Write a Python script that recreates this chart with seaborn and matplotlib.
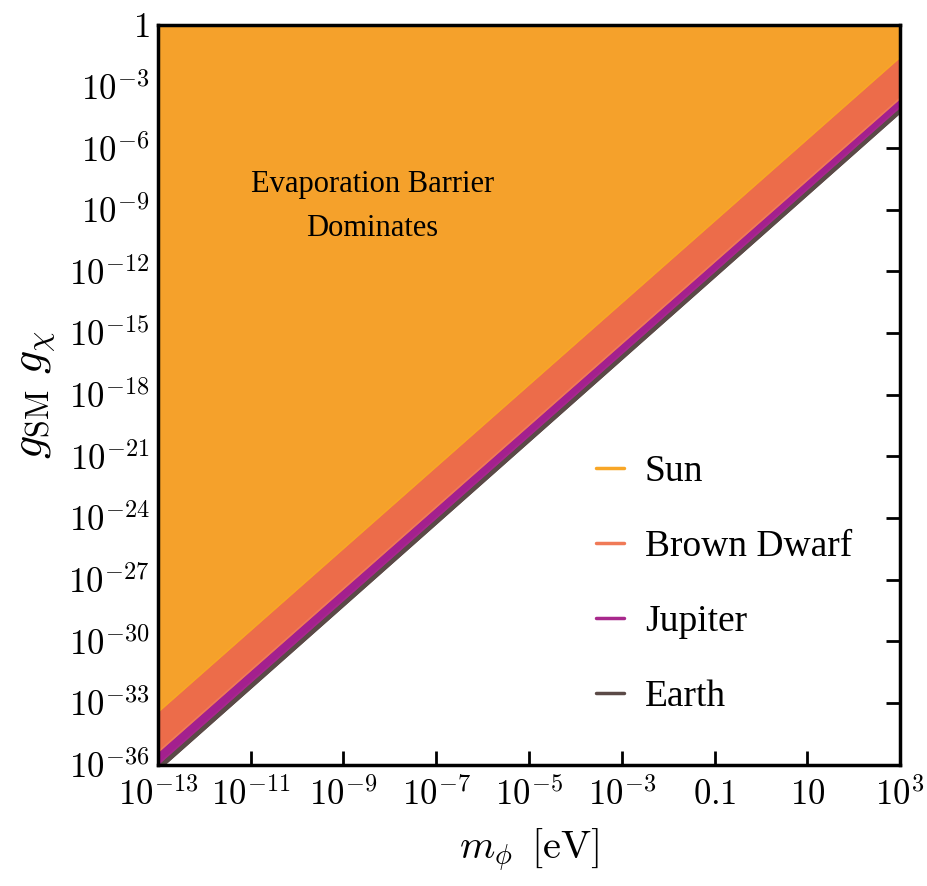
import numpy as np
import pandas as pd
import matplotlib
matplotlib.use("Agg")
import matplotlib.pyplot as plt
import seaborn as sns

# Boundary of each body's evaporation-dominated region (g_SM g_chi vs m_phi),
# given at the two ends of the mass range shown.
bodies = ["Sun", "Brown Dwarf", "Jupiter", "Earth"]
m_phi = [1e-13, 1e3]
log_g_sun = [-33.45, -1.57]
log_g_bd = [-35.40, -3.57]
log_g_jup = [-36.00, -4.00]
log_g_earth = [-36.30, -4.28]

fill_colors = ["#F5A12B", "#EC6C4A", "#A3208E", "#5A4A47"]
line_colors = ["#F8A626", "#F07A57", "#A8288C", "#5B4A47"]

xticks = [1e-13, 1e-11, 1e-9, 1e-7, 1e-5, 1e-3, 1e-1, 1e1, 1e3]
xticklabels = [r"$10^{-13}$", r"$10^{-11}$", r"$10^{-9}$", r"$10^{-7}$",
               r"$10^{-5}$", r"$10^{-3}$", r"$0.1$", r"$10$", r"$10^{3}$"]
yticks = [10.0 ** -k for k in range(0, 37, 3)]
yticklabels = [r"$1$"] + [r"$10^{-%d}$" % k for k in range(3, 37, 3)]

log_bounds = [log_g_sun, log_g_bd, log_g_jup, log_g_earth]
df = pd.DataFrame({
    "m": np.tile(m_phi, len(bodies)),
    "g": 10.0 ** np.concatenate(log_bounds),
    "body": np.repeat(bodies, len(m_phi)),
})

sns.set_style("ticks", rc={"axes.edgecolor": "black", "text.color": "black",
                           "axes.labelcolor": "black", "xtick.color": "black",
                           "ytick.color": "black"})
plt.rcParams["font.family"] = ["Liberation Serif", "DejaVu Serif"]
plt.rcParams["mathtext.fontset"] = "cm"

fig = plt.figure(figsize=(9.28, 8.86), dpi=100)
ax = fig.add_axes([0.170, 0.137, 0.800, 0.835])

# shaded regions: lowest boundary first, each filled up to the top of the plot
for name, col in zip(bodies[::-1], fill_colors[::-1]):
    sub = df[df["body"] == name]
    ax.fill_between(sub["m"], sub["g"], 1.0, color=col, lw=0, zorder=1)

sns.lineplot(data=df, x="m", y="g", hue="body", hue_order=bodies,
             palette=dict(zip(bodies, line_colors)), lw=1.2, ax=ax, zorder=2)

ax.set_xscale("log")
ax.set_yscale("log")
ax.set_xlim(1e-13, 1e3)
ax.set_ylim(1e-36, 1)
ax.set_xticks(xticks)
ax.set_xticklabels(xticklabels)
ax.set_yticks(yticks)
ax.set_yticklabels(yticklabels)
ax.minorticks_off()
ax.tick_params(axis="both", which="major", direction="in", length=10, width=2,
               labelsize=25, top=True, right=True, pad=6)
ax.tick_params(axis="x", pad=10)
for sp in ax.spines.values():
    sp.set_linewidth(2.5)
    sp.set_zorder(5)

ax.set_xlabel(r"$m_\phi\ \, [\mathrm{eV}]$", fontsize=29, labelpad=10)
ax.set_ylabel(r"$g_{\rm SM}\ g_\chi$", fontsize=33, labelpad=8)

ax.text(10 ** -8.38, 10 ** -8.85, "Evaporation Barrier\nDominates",
        ha="center", va="center", fontsize=22, linespacing=1.7)

leg = ax.legend(loc="upper left", bbox_to_anchor=(0.59, 0.419), frameon=False,
                fontsize=27, handlelength=0.75, handletextpad=0.56,
                labelspacing=1.08, borderpad=0, borderaxespad=0, title=None)
for h in leg.get_lines():
    h.set_linewidth(2.5)

fig.savefig("out.png", dpi=100)
